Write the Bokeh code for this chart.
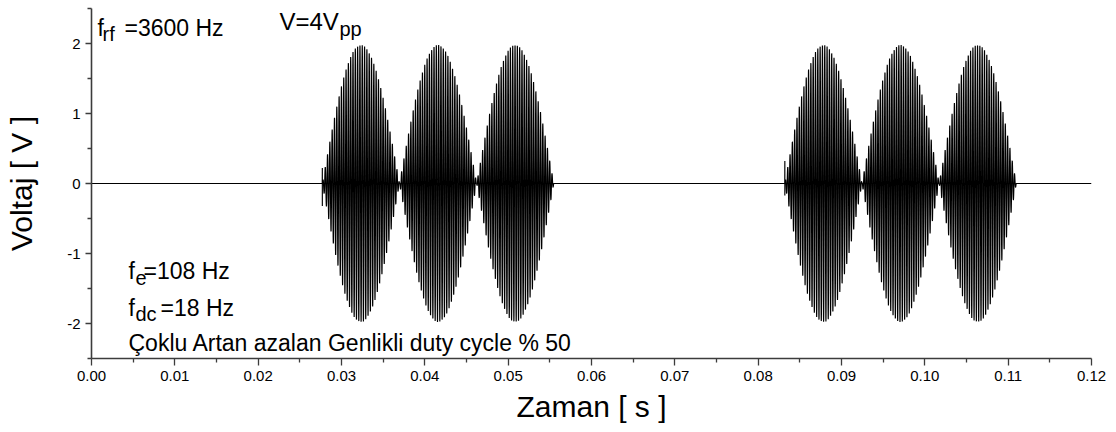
import numpy as np
from bokeh.plotting import figure
from bokeh.models import Range1d, FixedTicker, NumeralTickFormatter, Label
from bokeh.embed import file_html
from bokeh.resources import INLINE

# ---- values ----
carrier_hz = 3600.0          # f_rf
envelope_hz = 108.0          # f_e  (one lobe per 1/108 s)
duty_hz = 18.0               # f_dc
duty_fraction = 0.5          # duty cycle % 50
lobe_peak_v = 1.98           # peak of each lobe (V = 4 Vpp)
burst_starts = [0.0277, 0.0832]
start_spike_high = [0.22, 0.32]
start_spike_low = [-0.32, -0.17]
t_end = 0.12
sample_rate = 100000.0

x_ticks = [0.00, 0.01, 0.02, 0.03, 0.04, 0.05, 0.06, 0.07, 0.08, 0.09, 0.10, 0.11, 0.12]
x_minor = [0.005, 0.015, 0.025, 0.035, 0.045, 0.055, 0.065, 0.075, 0.085, 0.095, 0.105, 0.115]
y_ticks = [-2, -1, 0, 1, 2]
y_minor = [-2.5, -1.5, -0.5, 0.5, 1.5, 2.5]

# ---- build the recorded waveform ----
t = np.arange(0.0, t_end + 0.5 / sample_rate, 1.0 / sample_rate)
v = np.zeros_like(t)
on_time = duty_fraction / duty_hz
for s in burst_starts:
    m = (t >= s) & (t <= s + on_time)
    tau = t[m] - s
    v[m] = lobe_peak_v * np.abs(np.sin(np.pi * envelope_hz * tau)) * np.sin(2 * np.pi * carrier_hz * tau)
for s, hi, lo in zip(burst_starts, start_spike_high, start_spike_low):
    i = int(np.searchsorted(t, s))
    t = np.insert(t, i, [s, s])
    v = np.insert(v, i, [hi, lo])

X0, X1, Y0, Y1 = 0.0, 0.12, -2.5, 2.5
FL, FR, FT, FB = 91, 1091, 8, 358

def dx(px):
    return X0 + (px - FL) / (FR - FL) * (X1 - X0)

def dy(py):
    return Y1 - (py - FT) / (FB - FT) * (Y1 - Y0)

p = figure(width=1116, height=432, output_backend="svg", toolbar_location=None,
           x_range=Range1d(X0, X1), y_range=Range1d(Y0, Y1),
           min_border_left=FL, min_border_right=1116 - FR,
           min_border_top=FT, min_border_bottom=432 - FB)
p.outline_line_color = None
p.grid.grid_line_color = None
p.background_fill_color = "white"
p.border_fill_color = "white"

p.line(t, v, line_color="black", line_width=1.15)

FONT = "Liberation Sans"
for ax in (p.xaxis[0], p.yaxis[0]):
    ax.axis_line_color = "#3c3c3c"
    ax.axis_line_width = 1.6
    ax.major_tick_line_color = "#3c3c3c"
    ax.minor_tick_line_color = "#3c3c3c"
    ax.major_tick_line_width = 1.3
    ax.minor_tick_line_width = 1.3
    ax.major_tick_in = 0
    ax.minor_tick_in = 0
    ax.major_label_text_font = FONT
    ax.major_label_text_font_size = "15px"
    ax.major_label_text_color = "black"
    ax.axis_label_text_font = FONT
    ax.axis_label_text_font_style = "normal"
    ax.axis_label_text_color = "black"
    ax.axis_label_text_font_size = "30px"

p.xaxis.ticker = FixedTicker(ticks=x_ticks, minor_ticks=x_minor)
p.xaxis.formatter = NumeralTickFormatter(format="0.00")
p.xaxis.major_tick_out = 7
p.xaxis.minor_tick_out = 4
p.xaxis.major_label_standoff = 5
p.xaxis.axis_label = "Zaman [ s ]"
p.xaxis.axis_label_standoff = 6

p.yaxis.ticker = FixedTicker(ticks=y_ticks, minor_ticks=y_minor)
p.yaxis.formatter = NumeralTickFormatter(format="0")
p.yaxis.major_tick_out = 6
p.yaxis.minor_tick_out = 4
p.yaxis.major_label_standoff = 5
p.yaxis.axis_label = "Voltaj [ V ]"
p.yaxis.axis_label_standoff = 26

def lab(text, px, py, size, **kw):
    p.add_layout(Label(x=dx(px), y=dy(py), text=text, text_font=FONT,
                       text_font_size=f"{size}px", text_color="black",
                       text_baseline=kw.pop("baseline", "alphabetic"),
                       text_align=kw.pop("align", "left"), **kw))

# annotations
lab("f", 97, 27, 23)
lab("rf", 102, 33, 20)
lab("=3600 Hz", 124, 27, 23)
lab("V=4V", 279, 21, 24)
lab("pp", 339, 28, 20)

lab("f", 128, 270, 23)
lab("e", 135, 277, 20)
lab("=108 Hz", 143, 270, 23)
lab("f", 128, 307, 23)
lab("dc", 135, 313, 20)
lab("=18 Hz", 160, 307, 23)
lab("Çoklu Artan azalan Genlikli duty cycle % 50", 128, 342, 23)

open("out.html", "w").write(file_html(p, INLINE))
